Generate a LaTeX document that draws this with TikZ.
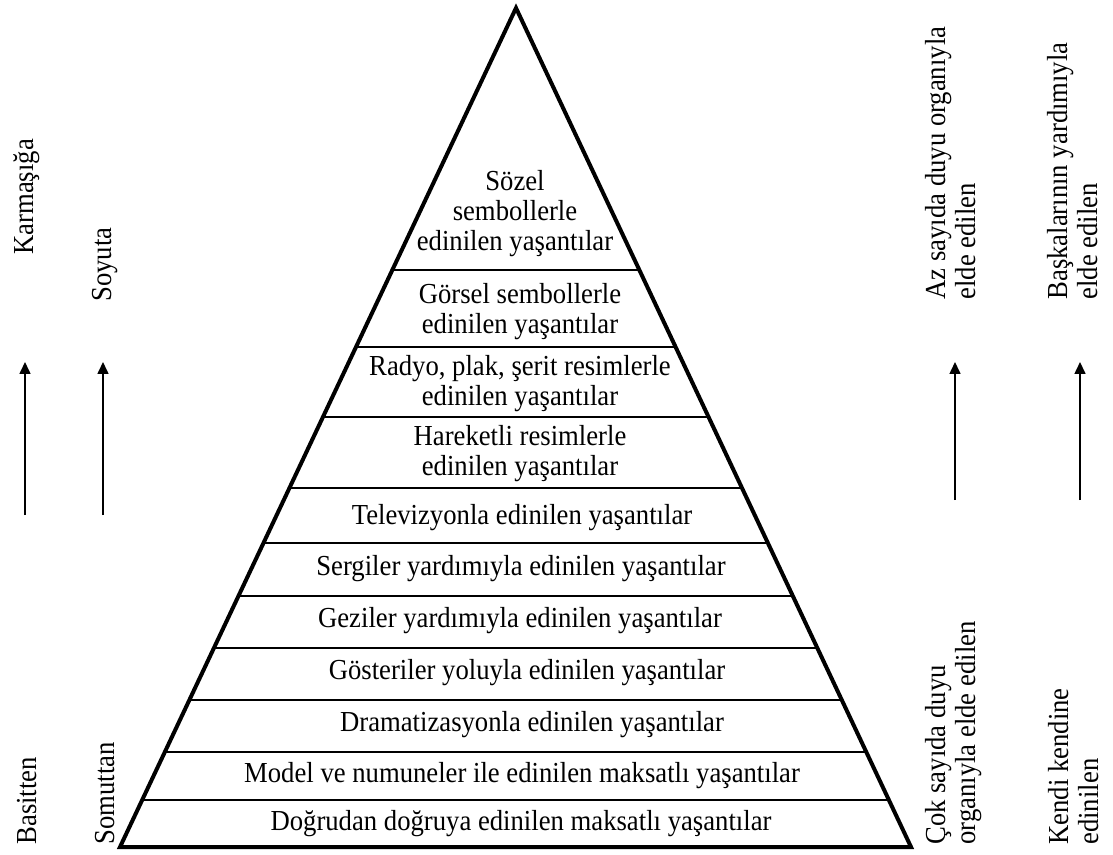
\documentclass[tikz,border=0pt]{standalone}
\usepackage{fontspec}
\setmainfont[FakeStretch=0.92]{Liberation Serif}
\usetikzlibrary{calc,arrows.meta}
\begin{document}
\begin{tikzpicture}[x=0.5pt,y=-0.5pt,
  font=\fontsize{14.5}{15}\selectfont,
  outline/.style={line width=2pt, line join=miter},
  band/.style={line width=1.2pt},
  lbl/.style={align=center, inner sep=0pt},
  side/.style={rotate=90, align=left, inner sep=0pt, anchor=west},
  updir/.style={line width=0.8pt, -{Triangle[length=6pt,width=5.5pt]}}]
\useasboundingbox (0,0) rectangle (1113,855);
% pyramid corners
\coordinate (A) at (516,8);
\coordinate (L) at (120,847);
\coordinate (R) at (911,847);
\foreach \yy in {270,347,417,488,543,596,648,700,752,800}{
  \draw[band] ($(A)!{(\yy-8)/839}!(L)$) -- ($(A)!{(\yy-8)/839}!(R)$);
}
\draw[outline] (A) -- (L) -- (R) -- cycle;
% level texts
\node[lbl] (t1) at (515,214) {Sözel\\sembollerle\\edinilen yaşantılar};
\node[lbl] (t2) at (520,312) {Görsel sembollerle\\edinilen yaşantılar};
\node[lbl] (t3) at (520,384) {Radyo, plak, şerit resimlerle\\edinilen yaşantılar};
\node[lbl] (t4) at (520,454) {Hareketli resimlerle\\edinilen yaşantılar};
\node[lbl] (t5) at (522,518) {Televizyonla edinilen yaşantılar};
\node[lbl] (t6) at (521,569) {Sergiler yardımıyla edinilen yaşantılar};
\node[lbl] (t7) at (520,621) {Geziler yardımıyla edinilen yaşantılar};
\node[lbl] (t8) at (527,673) {Gösteriler yoluyla edinilen yaşantılar};
\node[lbl] (t9) at (532,725) {Dramatizasyonla edinilen yaşantılar};
\node[lbl] (t10) at (522,776) {Model ve numuneler ile edinilen maksatlı yaşantılar};
\node[lbl] (t11) at (521,824) {Doğrudan doğruya edinilen maksatlı yaşantılar};
% left side
\node[side] (karm) at (27,255) {Karmaşığa};
\node[side] (basit) at (27,845) {Basitten};
\node[side] (soy) at (105,302) {Soyuta};
\node[side] (somut) at (105,845) {Somuttan};
\coordinate (a1s) at (25,515); \coordinate (a1e) at (25,362);
\coordinate (a2s) at (103,515); \coordinate (a2e) at (103,362);
\draw[updir] (a1s) -- (a1e);
\draw[updir] (a2s) -- (a2e);
% right side
\node[side] (az) at (951,300) {Az sayıda duyu organıyla\\elde edilen};
\node[side] (bask) at (1073,300) {Başkalarının yardımıyla\\elde edilen};
\node[side] (cok) at (954,845) {Çok sayıda duyu\\organıyla elde edilen};
\node[side] (kendi) at (1074,845) {Kendi kendine\\edinilen};
\coordinate (a3s) at (955,500); \coordinate (a3e) at (955,362);
\coordinate (a4s) at (1080,500); \coordinate (a4e) at (1080,362);
\draw[updir] (a3s) -- (a3e);
\draw[updir] (a4s) -- (a4e);
\end{tikzpicture}
\end{document}
